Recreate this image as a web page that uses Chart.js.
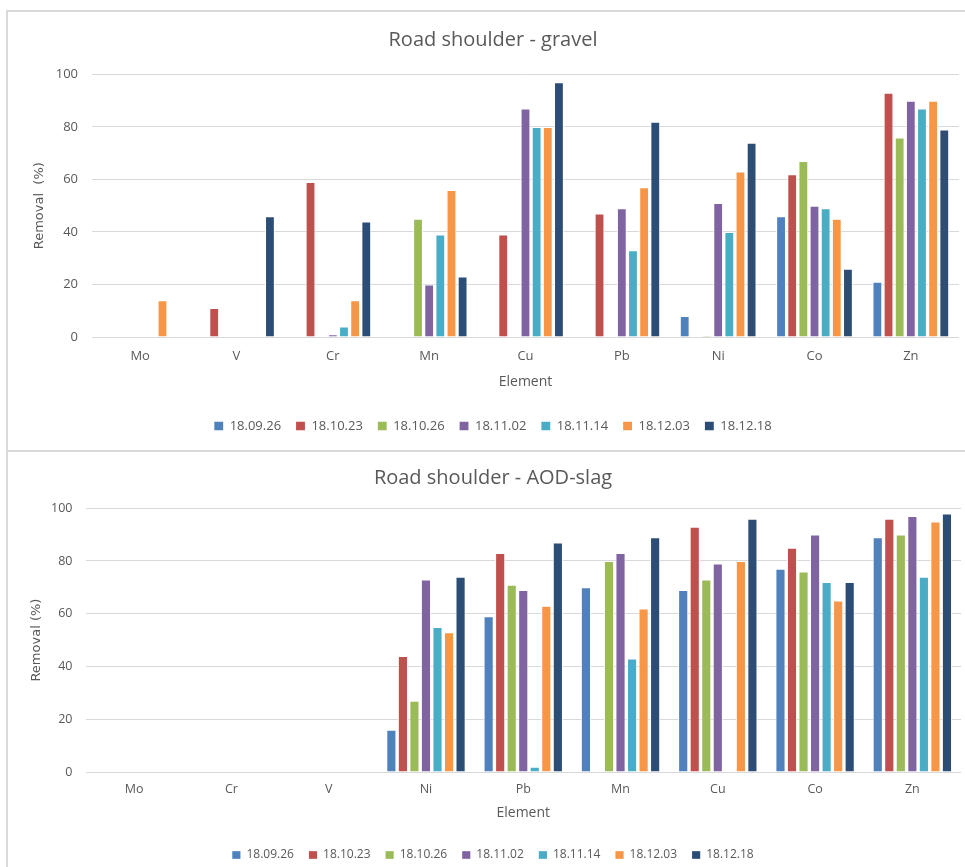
<!DOCTYPE html>
<html>
<head>
<meta charset="utf-8">
<title>Road shoulder removal</title>
<script src="https://cdn.jsdelivr.net/npm/chart.js@4.4.1/dist/chart.umd.min.js"></script>
<style>
  html, body { margin: 0; padding: 0; background: #fff; overflow: hidden; }
  body { width: 965px; height: 867px; position: relative; }
  .frame { position: absolute; left: 6px; width: 959px; border-left: 2px solid #d9d9d9; box-sizing: border-box; }
  #frame1 { top: 10px; height: 442px; border-top: 2px solid #d9d9d9; border-bottom: 2px solid #d9d9d9; }
  #frame2 { top: 452px; height: 415px; }
  canvas { position: absolute; left: 7px; }
  #gravelChart { top: 12px; }
  #slagChart { top: 453px; }
</style>
</head>
<body>
<div class="frame" id="frame1"></div>
<div class="frame" id="frame2"></div>
<canvas id="gravelChart" width="958" height="440"></canvas>
<canvas id="slagChart" width="958" height="420"></canvas>
<script>
const sampleDates = ['18.09.26', '18.10.23', '18.10.26', '18.11.02', '18.11.14', '18.12.03', '18.12.18'];
const seriesColors = ['#4f81bd', '#c0504d', '#9bbb59', '#8064a2', '#4bacc6', '#f79646', '#2c4d75'];
const yTicks = [0, 20, 40, 60, 80, 100];

// Road shoulder - gravel
const gravelElements = ['Mo', 'V', 'Cr', 'Mn', 'Cu', 'Pb', 'Ni', 'Co', 'Zn'];
const gravel_180926 = [0, 0, 0, 0, 0, 0, 8, 46, 21];
const gravel_181023 = [0, 11, 59, 0, 39, 47, 0, 62, 93];
const gravel_181026 = [0, 0, 0, 45, 0, 0, 0.5, 67, 76];
const gravel_181102 = [0, 0, 1, 20, 87, 49, 51, 50, 90];
const gravel_181114 = [0, 0, 4, 39, 80, 33, 40, 49, 87];
const gravel_181203 = [14, 0, 14, 56, 80, 57, 63, 45, 90];
const gravel_181218 = [0, 46, 44, 23, 97, 82, 74, 26, 79];

// Road shoulder - AOD-slag
const slagElements = ['Mo', 'Cr', 'V', 'Ni', 'Pb', 'Mn', 'Cu', 'Co', 'Zn'];
const slag_180926 = [0, 0, 0, 16, 59, 70, 69, 77, 89];
const slag_181023 = [0, 0, 0, 44, 83, 0, 93, 85, 96];
const slag_181026 = [0, 0, 0, 27, 71, 80, 73, 76, 90];
const slag_181102 = [0, 0, 0, 73, 69, 83, 79, 90, 97];
const slag_181114 = [0, 0, 0, 55, 2, 43, 0, 72, 74];
const slag_181203 = [0, 0, 0, 53, 63, 62, 80, 65, 95];
const slag_181218 = [0, 0, 0, 74, 87, 89, 96, 72, 98];

const gravelSeries = [gravel_180926, gravel_181023, gravel_181026, gravel_181102, gravel_181114, gravel_181203, gravel_181218];
const slagSeries = [slag_180926, slag_181023, slag_181026, slag_181102, slag_181114, slag_181203, slag_181218];

const textColor = '#595959';
const gridColor = '#d9d9d9';
const baseFont = "'Open Sans', 'Noto Sans', sans-serif";

function makeChart(canvasId, title, elements, series, s) {
  const ctx = document.getElementById(canvasId).getContext('2d');
  const datasets = series.map((values, i) => ({
    label: sampleDates[i],
    data: values,
    backgroundColor: seriesColors[i],
    borderColor: '#ffffff',
    borderWidth: c => (c.raw > 0 ? 1 : 0),
    categoryPercentage: s.catPct,
    barPercentage: 0.88
  }));

  return new Chart(ctx, {
    type: 'bar',
    data: { labels: elements, datasets: datasets },
    options: {
      responsive: false,
      animation: false,
      layout: { padding: s.pad },
      plugins: {
        title: {
          display: true,
          text: title,
          color: textColor,
          font: { family: baseFont, size: 20, weight: 'normal' },
          padding: s.titlePad
        },
        legend: {
          position: 'bottom',
          labels: {
            color: textColor,
            font: { family: baseFont, size: s.legendSize },
            boxWidth: s.legendSize * 0.68,
            boxHeight: s.legendSize * 0.64,
            padding: 15,
            generateLabels: chart => chart.data.datasets.map((d, i) => ({
              text: d.label,
              fillStyle: seriesColors[i],
              strokeStyle: seriesColors[i],
              lineWidth: 0,
              fontColor: textColor,
              datasetIndex: i
            }))
          }
        },
        tooltip: { enabled: false }
      },
      scales: {
        x: {
          grid: { display: false },
          border: { display: false },
          ticks: {
            color: textColor,
            font: { family: baseFont, size: s.tickSize },
            padding: s.xTickPad,
            maxRotation: 0
          },
          title: {
            display: true,
            text: 'Element',
            color: textColor,
            font: { family: baseFont, size: 14 },
            padding: { top: 0, bottom: s.xTitlePad }
          },
          afterFit: scale => { scale.height = s.xHeight; }
        },
        y: {
          min: 0,
          max: 100,
          afterBuildTicks: scale => { scale.ticks = yTicks.map(v => ({ value: v })); },
          grid: { color: gridColor, lineWidth: 1, drawTicks: false },
          border: { display: false },
          ticks: {
            color: textColor,
            font: { family: baseFont, size: s.tickSize },
            padding: s.yTickPad
          },
          title: {
            display: true,
            text: s.yTitle,
            color: textColor,
            font: { family: "'DejaVu Sans', sans-serif", size: 13 },
            padding: { top: s.yTitlePad, bottom: 0 }
          },
          afterFit: scale => { scale.width = s.yWidth; }
        }
      }
    }
  });
}

document.addEventListener('DOMContentLoaded', () => {
  makeChart('gravelChart', 'Road shoulder - gravel', gravelElements, gravelSeries, {
    pad: { left: 20, right: 6, top: 0, bottom: 9.5 },
    titlePad: { top: 16.4, bottom: 22 },
    catPct: 0.81,
    legendSize: 13,
    tickSize: 13,
    xTickPad: 3,
    xTitlePad: 14,
    xHeight: 67.5,
    yTickPad: 14,
    yTitlePad: 5,
    yWidth: 65,
    yTitle: 'Removal  (%)'
  });
  makeChart('slagChart', 'Road shoulder - AOD-slag', slagElements, slagSeries, {
    pad: { left: 18, right: 4, top: 0, bottom: 2 },
    titlePad: { top: 13.4, bottom: 17.8 },
    catPct: 0.83,
    legendSize: 12,
    tickSize: 12.5,
    xTickPad: 1.5,
    xTitlePad: 12.6,
    xHeight: 62,
    yTickPad: 13,
    yTitlePad: 4,
    yWidth: 60.5,
    yTitle: 'Removal (%)'
  });
});
</script>
</body>
</html>
